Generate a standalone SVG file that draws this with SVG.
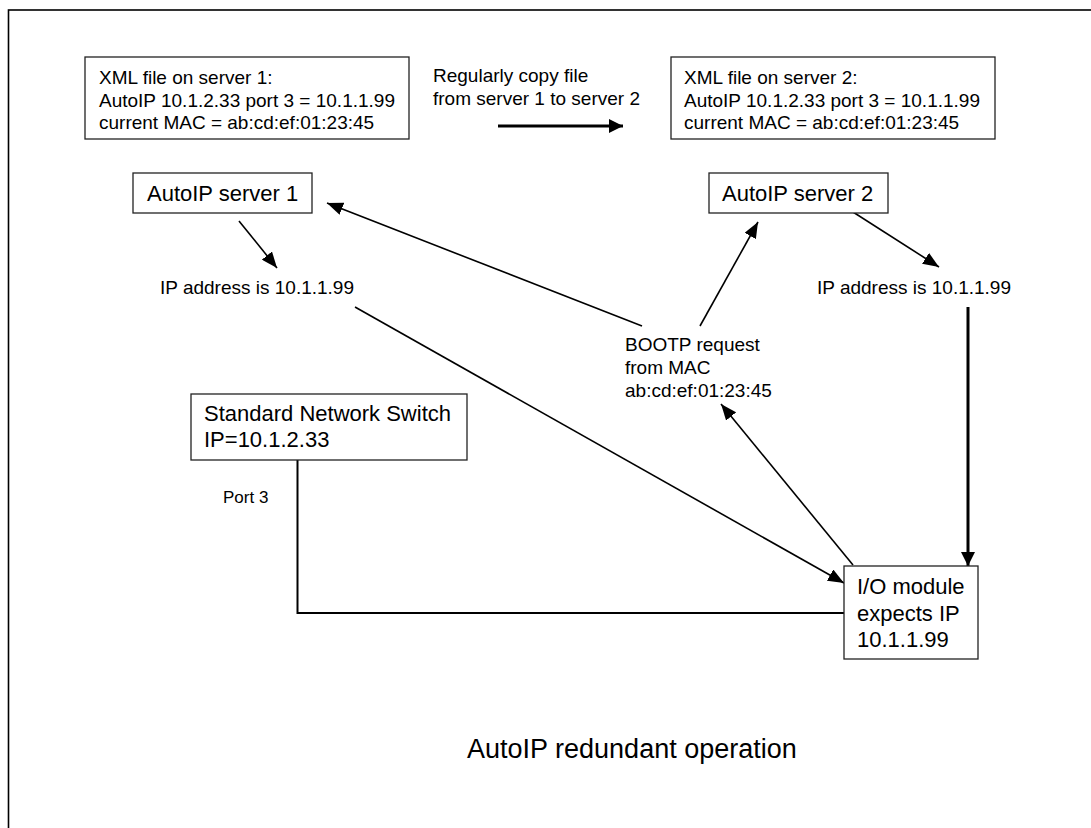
<svg xmlns="http://www.w3.org/2000/svg" width="1091" height="828" viewBox="0 0 1091 828">
<style>
.box{fill:#fff;stroke:#222;stroke-width:1.3}
.t{font-family:"Liberation Sans",Arial,sans-serif;fill:#000}
.s19{font-size:19px}
.s22{font-size:22px}
.thin{stroke:#000;stroke-width:1.6;fill:none}
.thick{stroke:#000;stroke-width:3;fill:none}
</style>
<defs>
<marker id="ah" viewBox="0 0 16 13" refX="16" refY="6.5" markerWidth="16" markerHeight="13" markerUnits="userSpaceOnUse" orient="auto">
<path d="M0,0 L16,6.5 L0,13 z" fill="#000"/>
</marker>
<marker id="ahb" viewBox="0 0 14 14" refX="14" refY="7" markerWidth="14" markerHeight="14" markerUnits="userSpaceOnUse" orient="auto">
<path d="M0,0 L14,7 L0,14 z" fill="#000"/>
</marker>
</defs>
<rect x="8.5" y="10" width="1100" height="830" fill="#fff" stroke="#000" stroke-width="1.6"/>

<g id="connectors">
<line class="thick" x1="498" y1="126" x2="623" y2="126" marker-end="url(#ahb)"/>
<line class="thin" x1="239" y1="221" x2="277" y2="268" marker-end="url(#ah)"/>
<line class="thin" x1="642" y1="326" x2="327" y2="203" marker-end="url(#ah)"/>
<line class="thin" x1="700" y1="326" x2="758" y2="222" marker-end="url(#ah)"/>
<line class="thin" x1="853" y1="212" x2="939" y2="267" marker-end="url(#ah)"/>
<line class="thick" x1="968" y1="307" x2="968" y2="566" marker-end="url(#ahb)"/>
<line class="thin" x1="853" y1="565" x2="721" y2="404" marker-end="url(#ah)"/>
<line class="thin" x1="355" y1="307" x2="844" y2="583" marker-end="url(#ah)"/>
<polyline class="thin" style="stroke-width:2" points="297.5,460 297.5,613 844,613"/>
</g>

<g id="xml1">
<rect class="box" x="85" y="57" width="324" height="82"/>
<text class="t s19" x="99" y="84">XML file on server 1:</text>
<text class="t s19" x="99" y="106.5">AutoIP 10.1.2.33 port 3 = 10.1.1.99</text>
<text class="t s19" x="99" y="129">current MAC = ab:cd:ef:01:23:45</text>
</g>

<g id="copy-label">
<text class="t s19" x="433" y="82">Regularly copy file</text>
<text class="t s19" x="433" y="105">from server 1 to server 2</text>
</g>

<g id="xml2">
<rect class="box" x="671" y="57" width="324" height="82"/>
<text class="t s19" x="684" y="84">XML file on server 2:</text>
<text class="t s19" x="684" y="106.5">AutoIP 10.1.2.33 port 3 = 10.1.1.99</text>
<text class="t s19" x="684" y="129">current MAC = ab:cd:ef:01:23:45</text>
</g>

<g id="server1">
<rect class="box" x="133" y="173" width="179" height="40"/>
<text class="t s22" x="147" y="201">AutoIP server 1</text>
</g>

<g id="server2">
<rect class="box" x="709" y="173" width="179" height="40"/>
<text class="t s22" x="722" y="200.5">AutoIP server 2</text>
</g>

<g id="ip1">
<text class="t s19" x="160" y="294">IP address is 10.1.1.99</text>
</g>

<g id="ip2">
<text class="t s19" x="817" y="293.5">IP address is 10.1.1.99</text>
</g>

<g id="bootp">
<text class="t s19" x="625" y="351">BOOTP request</text>
<text class="t s19" x="625" y="373.5">from MAC</text>
<text class="t s19" x="625" y="396.5">ab:cd:ef:01:23:45</text>
</g>

<g id="switch">
<rect class="box" x="191" y="394" width="276" height="66"/>
<text class="t s22" x="204" y="421">Standard Network Switch</text>
<text class="t s22" x="204" y="447">IP=10.1.2.33</text>
</g>

<g id="port3">
<text class="t" style="font-size:17px" x="223" y="503">Port 3</text>
</g>

<g id="io">
<rect class="box" x="844" y="566" width="134" height="93"/>
<text class="t s22" x="857" y="594">I/O module</text>
<text class="t s22" x="857" y="620.5">expects IP</text>
<text class="t s22" x="857" y="647">10.1.1.99</text>
</g>

<g id="title">
<text class="t" style="font-size:27px" x="467" y="758">AutoIP redundant operation</text>
</g>
</svg>
